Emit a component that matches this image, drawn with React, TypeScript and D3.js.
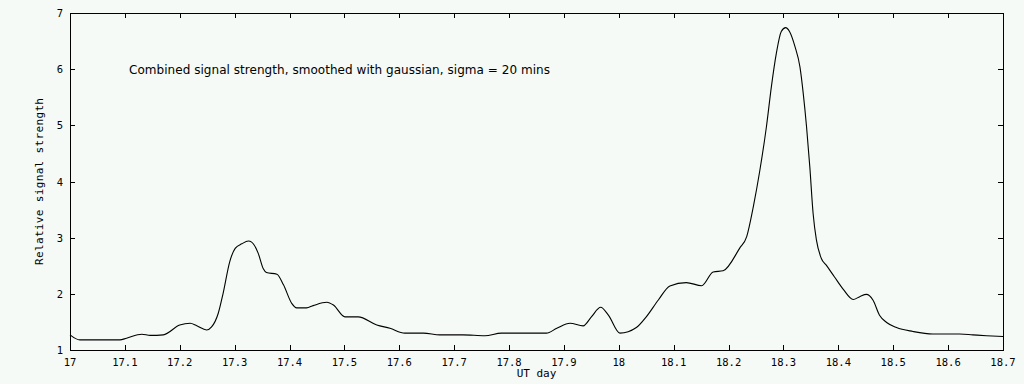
import React from "react";
import * as d3 from "d3";

const days = [
  17.0, 17.018, 17.091, 17.103, 17.131, 17.146, 17.17, 17.2, 17.219, 17.231, 17.249, 17.258, 17.27, 17.279,
  17.291, 17.301, 17.313, 17.325, 17.331, 17.343, 17.352, 17.358, 17.377, 17.389, 17.404, 17.413, 17.431,
  17.443, 17.468, 17.48, 17.501, 17.525, 17.559, 17.583, 17.61, 17.644, 17.674, 17.716, 17.756, 17.786,
  17.868, 17.887, 17.911, 17.935, 17.95, 17.967, 17.981, 18.002, 18.032, 18.05, 18.072, 18.093, 18.123,
  18.151, 18.172, 18.19, 18.22, 18.233, 18.245, 18.257, 18.269, 18.278, 18.287, 18.296, 18.304, 18.311,
  18.321, 18.33, 18.336, 18.342, 18.348, 18.354, 18.36, 18.369, 18.378, 18.393, 18.409, 18.427, 18.439,
  18.451, 18.463, 18.475, 18.488, 18.506, 18.536, 18.572, 18.621, 18.645, 18.67, 18.7,
];
const strength = [
  1.27, 1.18, 1.18, 1.21, 1.28, 1.26, 1.27, 1.445, 1.475, 1.43, 1.356, 1.41, 1.65, 2.01,
  2.57, 2.81, 2.89, 2.94, 2.92, 2.72, 2.45, 2.38, 2.35, 2.16, 1.83, 1.75, 1.75,
  1.79, 1.85, 1.8, 1.59, 1.59, 1.445, 1.386, 1.3, 1.3, 1.27, 1.27, 1.255, 1.3,
  1.3, 1.386, 1.475, 1.43, 1.59, 1.76, 1.62, 1.3, 1.4, 1.59, 1.89, 2.14, 2.2,
  2.145, 2.39, 2.41, 2.81, 3.02, 3.55, 4.2, 4.98, 5.69, 6.28, 6.67, 6.74, 6.67,
  6.4, 6.04, 5.57, 4.98, 4.26, 3.43, 2.96, 2.63, 2.51, 2.3, 2.08, 1.9, 1.95,
  1.99, 1.89, 1.62, 1.49, 1.4, 1.33, 1.285, 1.285, 1.27, 1.255, 1.24,
];
const xTicks = [17, 17.1, 17.2, 17.3, 17.4, 17.5, 17.6, 17.7, 17.8, 17.9, 18, 18.1, 18.2, 18.3, 18.4, 18.5, 18.6, 18.7];
const yTicks = [1, 2, 3, 4, 5, 6, 7];
const title = "Combined signal strength, smoothed with gaussian, sigma = 20 mins";
const xLabel = "UT day";
const yLabel = "Relative signal strength";

const W = 1024, H = 384;
const L = 70, R = 1003, T = 13, B = 350;

export default function App() {
  const x = d3.scaleLinear().domain([17, 18.7]).range([L, R]);
  const y = d3.scaleLinear().domain([1, 7]).range([B, T]);
  const pts: [number, number][] = days.map((d, i) => [d, strength[i]]);
  const line = d3
    .line<[number, number]>()
    .x((d) => x(d[0]))
    .y((d) => y(d[1]))
    .curve(d3.curveMonotoneX);
  const mono = "'DejaVu Sans Mono', monospace";
  const tl = 5;
  return (
    <svg
      width={W}
      height={H}
      style={{ position: "absolute", left: 0, top: 0, background: "#f5faf6" }}
    >
      <rect x={0} y={0} width={W} height={H} fill="#f5faf6" />
      <path d={line(pts) || ""} fill="none" stroke="#000" strokeWidth={1.1} />
      <g shapeRendering="crispEdges" stroke="#000" strokeWidth={1}>
        <rect x={L + 0.5} y={T + 0.5} width={R - L} height={B - T} fill="none" />
        {xTicks.map((t) => (
          <g key={"x" + t}>
            <line x1={Math.round(x(t)) + 0.5} x2={Math.round(x(t)) + 0.5} y1={B} y2={B - tl} />
            <line x1={Math.round(x(t)) + 0.5} x2={Math.round(x(t)) + 0.5} y1={T} y2={T + tl} />
          </g>
        ))}
        {yTicks.map((t) => (
          <g key={"y" + t}>
            <line x1={L} x2={L + tl} y1={Math.round(y(t)) + 0.5} y2={Math.round(y(t)) + 0.5} />
            <line x1={R} x2={R - tl} y1={Math.round(y(t)) + 0.5} y2={Math.round(y(t)) + 0.5} />
          </g>
        ))}
      </g>
      <g fontFamily={mono} fontSize={10.5} fill="#000">
        {xTicks.map((t) => (
          <text key={"xl" + t} x={x(t)} y={366} textAnchor="middle">
            {d3.format("")(t)}
          </text>
        ))}
        {yTicks.map((t) => (
          <text key={"yl" + t} x={63} y={y(t) + 4} textAnchor="end">
            {t}
          </text>
        ))}
        <text x={(L + R) / 2} y={377} textAnchor="middle" fontSize={11}>
          {xLabel}
        </text>
        <text
          transform={`translate(43, ${(T + B) / 2}) rotate(-90)`}
          textAnchor="middle"
          fontSize={11}
          textLength={167}
        >
          {yLabel}
        </text>
      </g>
      <text x={129} y={74} fontFamily="'DejaVu Sans', sans-serif" fontSize={12} fill="#000" textLength={421}>
        {title}
      </text>
    </svg>
  );
}
